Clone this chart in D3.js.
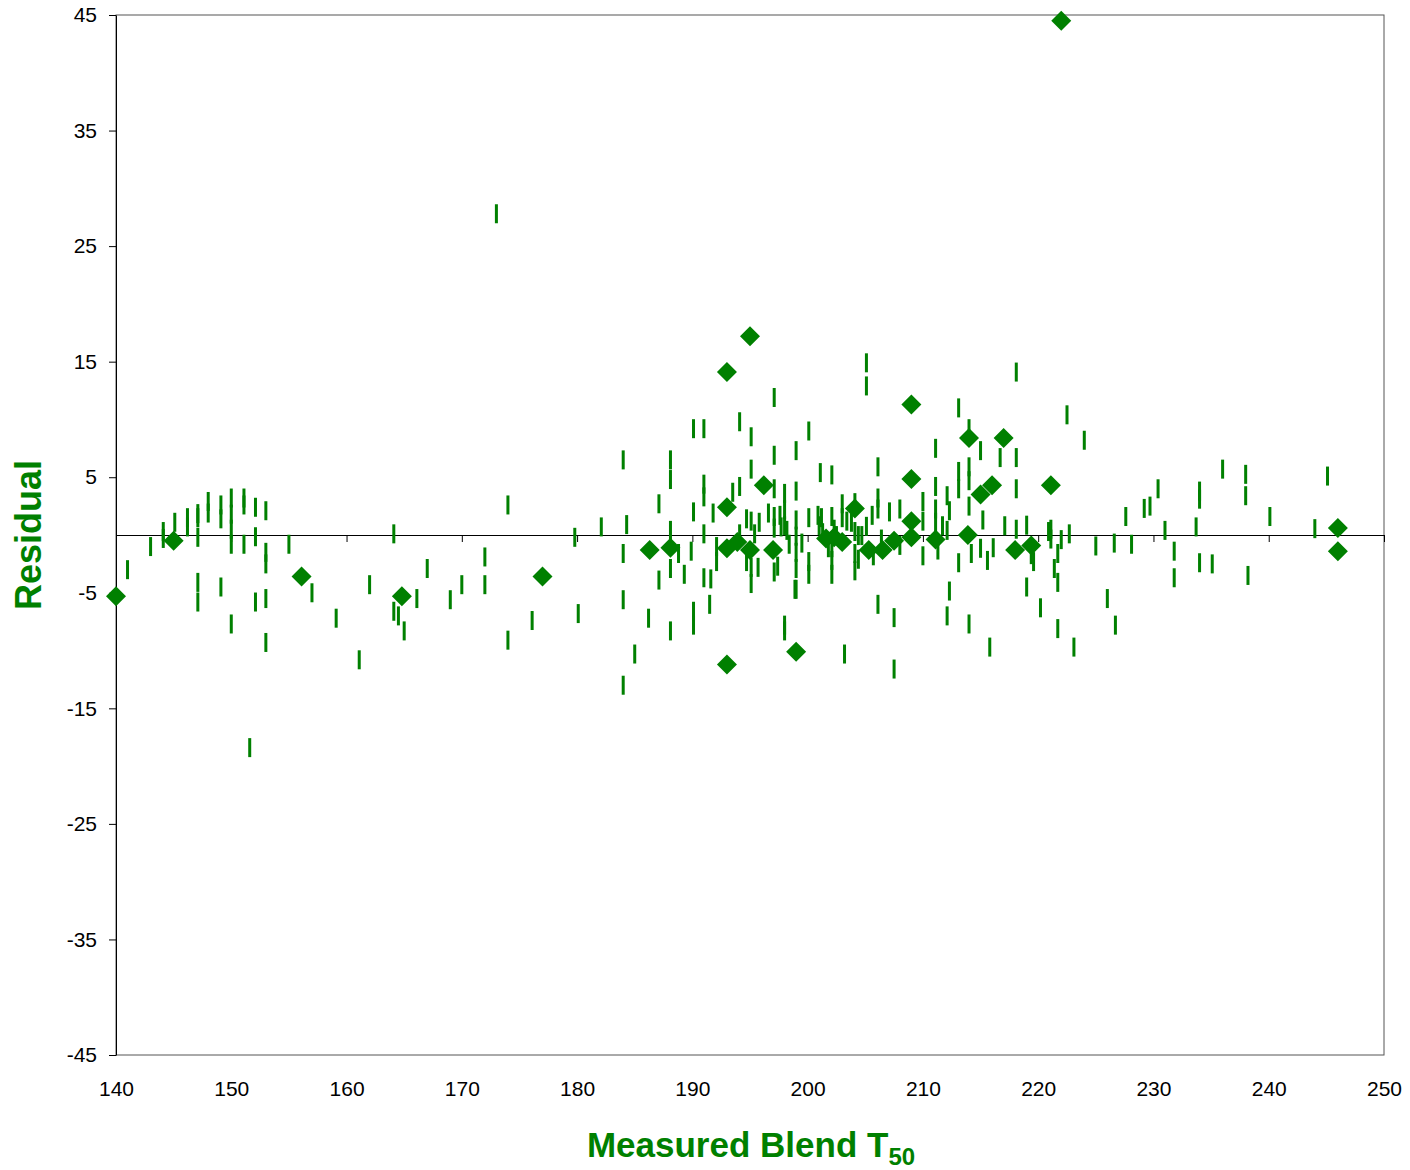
<!DOCTYPE html>
<html>
<head>
<meta charset="utf-8">
<script src="https://cdn.jsdelivr.net/npm/d3@7"></script>
<style>
  body { margin: 0; background: #fff; }
  svg { display: block; font-family: Arial, "Liberation Sans", sans-serif; }
</style>
</head>
<body>
<svg id="chart" width="1410" height="1170"></svg>
<script>
const width = 1410;
const height = 1170;
const margin = { top: 15, right: 26, bottom: 115, left: 116 };

const xTicks = [140, 150, 160, 170, 180, 190, 200, 210, 220, 230, 240, 250];
const yTicks = [-45, -35, -25, -15, -5, 5, 15, 25, 35, 45];

// diamonds (one series)
const diamondX = [140, 145, 156.1, 164.8, 177, 186.3, 188.1, 193, 193, 193, 193, 193.9, 195, 195, 196.2, 197, 199,
  201.6, 202.3, 203.0, 204.1, 205.3, 206.5, 207.5, 209, 209, 209, 209, 211.1, 214, 213.9, 215, 216, 217, 218, 219.4,
  221.1, 222, 246, 246];
const diamondY = [-5.3, -0.5, -3.6, -5.3, -3.6, -1.3, -1.1, 14.1, 2.4, -1.15, -11.2, -0.6, 17.2, -1.3, 4.3, -1.3, -10.1,
  -0.3, -0.2, -0.6, 2.3, -1.3, -1.3, -0.5, 11.3, 4.85, 1.2, -0.2, -0.4, 8.4, 0, 3.5, 4.3, 8.4, -1.3, -0.9,
  4.3, 44.5, 0.6, -1.4];

// dashes (other series)
const dashX = [141.0, 143.0, 144.1, 144.1, 145.1, 146.2, 146.2,
  147.1, 147.1, 147.1, 147.1, 147.1, 148.0, 148.0, 149.1, 149.1, 149.1,
  150.0, 150.0, 150.0, 150.0, 150.0, 151.1, 151.1, 151.1, 152.1, 152.1, 152.1,
  153.0, 153.0, 153.0, 153.0, 153.0, 151.6, 155.0, 157.0, 159.1, 161.1, 162.0,
  164.1, 164.1, 164.5, 165.0, 166.1, 167.0, 169.0, 170.0, 172.0, 172.0, 173.0, 174.0, 174.0,
  176.1, 179.8, 180.1, 182.1, 184.0, 184.0, 184.0, 184.0, 184.3, 185.0, 186.2, 187.1, 187.1,
  188.1, 188.1, 188.1, 188.1, 188.1, 188.8, 189.3, 189.9, 190.1, 190.1, 190.1, 190.1,
  191.0, 191.0, 191.0, 191.0, 191.0, 191.5, 191.6, 191.8, 192.1, 192.1, 193.5,
  194.1, 194.1, 194.1, 194.7, 194.7, 195.1, 195.1, 195.1, 195.1, 195.1, 195.4, 195.7, 195.8, 196.6,
  197.1, 197.1, 197.1, 197.1, 197.1, 197.1, 197.4, 197.6, 197.7,
  198.0, 198.0, 198.0, 198.0, 198.0, 198.2, 198.4, 198.9,
  199.0, 199.0, 199.0, 199.0, 199.0, 199.0, 199.0, 199.5,
  200.1, 200.1, 200.1, 200.1, 201.1, 200.9, 201.0, 201.2, 201.3,
  202.1, 202.1, 202.1, 202.1, 202.1, 201.8, 202.3, 202.5, 203.0, 203.0, 203.2, 203.4, 203.8,
  204.1, 204.1, 204.1, 204.1, 204.4, 204.4, 204.7, 205.1, 205.1, 205.1, 205.6, 205.7,
  206.1, 206.1, 206.1, 206.1, 206.4, 207.1, 207.5, 207.5, 208.0, 208.0,
  210.0, 210.0, 210.0, 211.1, 211.1, 211.1, 211.1, 211.3, 211.7,
  212.1, 212.1, 212.1, 212.3, 212.3, 213.1, 213.1, 213.1, 213.1,
  214.0, 214.0, 214.0, 214.0, 214.0, 214.2, 215.0, 215.0, 215.2, 215.6, 215.8, 216.1, 216.7, 217.1,
  218.1, 218.1, 218.1, 218.1, 219.0, 219.0, 219.4, 219.6, 220.2, 220.9, 221.1, 221.1,
  221.4, 221.7, 221.7, 221.7, 222.0, 222.5, 222.7, 223.1, 224.0, 225.0, 226.0, 226.6, 226.7,
  227.6, 228.1, 229.2, 229.7, 230.4, 231.0, 231.8, 231.8, 233.7, 234.0, 234.0, 234.0,
  235.1, 236.0, 238.0, 238.0, 238.2, 240.1, 244.0, 245.1];
const dashY = [-3.0, -1.0, 0.3, -0.3, 1.1, 1.5, 0.7,
  1.85, 1.5, -0.2, -4.1, -5.8, 2.9, 1.9, 2.6, 1.4, -4.5,
  3.2, 1.8, 0.5, -0.8, -7.7, 3.2, 2.6, -0.8, 2.4, -0.15, -5.8,
  2.1, -1.5, -2.5, -5.5, -9.3, -18.4, -0.8, -5.0, -7.2, -10.8, -4.3,
  0.1, -6.6, -7.0, -8.3, -5.5, -2.9, -5.6, -4.3, -1.9, -4.3, 27.8, 2.6, -9.1,
  -7.4, -0.2, -6.8, 0.7, 6.5, -1.6, -5.6, -13.0, 0.9, -10.3, -7.2, 2.7, -3.9,
  6.5, 4.8, 0.4, -2.9, -8.3, -1.6, -3.4, -1.4, 9.2, 2.0, -6.6, -7.8,
  9.2, 4.4, 3.3, 0.1, -3.7, -6.0, -3.8, 1.9, -1.0, -2.3, 3.7,
  9.8, 4.2, 0.1, 1.4, -2.3, 8.5, 5.7, 1.2, -2.8, -4.2, 0.1, -2.8, 1.1, 1.9,
  11.9, 6.9, 4.0, 1.6, 0.6, -3.2, -2.7, 1.7, 0.7,
  3.6, 2.2, 0.8, -7.8, -8.3, 0.4, -0.8, -4.7,
  7.3, 3.8, 1.3, -0.1, -1.5, -2.9, -4.7, -0.7,
  9.0, 1.5, -2.3, -3.4, 5.4, 1.7, 0.8, 1.5, 0.2,
  5.2, 1.6, -1.1, -2.2, -3.4, -1.1, 0.5, -0.05, 2.7, 1.5, -10.3, 1.2, 1.1,
  2.8, 0.3, -1.6, -3.1, -0.05, -2.1, -0.05, 14.9, 12.9, 0.75, 1.7, -1.8,
  5.9, 3.2, 2.25, -6.0, -0.35, 2.0, -7.15, -11.6, 2.25, -0.9,
  2.9, 1.2, -1.8, 7.5, 4.2, 2.25, 1.1, -1.3, 0.8,
  3.4, 0.4, -7.0, 2.1, -4.85, 11.0, 5.5, 4.0, -2.4,
  9.2, 5.9, 4.7, 2.5, -7.7, -1.6, 7.3, -1.15, 1.3, -2.2, -9.7, -1.1, 6.7, 0.8,
  14.1, 6.7, 4.0, 0.5, 0.85, -4.5, -1.7, -2.3, -6.3, 0.3, 0.5, -0.35,
  -2.9, -1.6, -4.1, -8.1, -0.4, 10.4, 0.1, -9.7, 8.2, -0.95, -5.5, -0.7, -7.8,
  1.6, -0.8, 2.3, 2.5, 4.0, 0.4, -1.4, -3.7, 0.7, 3.8, 3.1, -2.4,
  -2.5, 5.7, 5.25, 3.4, -3.5, 1.6, 0.55, 5.1];

const green = "#008000";

const svg = d3.select("#chart");

const x = d3.scaleLinear()
  .domain([140, 250])
  .range([margin.left, width - margin.right]);

const y = d3.scaleLinear()
  .domain([-45, 45])
  .range([height - margin.bottom, margin.top]);

// cadre de la zone de tracé
svg.append("rect")
  .attr("x", x(140))
  .attr("y", y(45))
  .attr("width", x(250) - x(140))
  .attr("height", y(-45) - y(45))
  .attr("fill", "none")
  .attr("stroke", "#555")
  .attr("stroke-width", 1);

// axe Y (tirets simples pour les négatifs)
const yAxis = svg.append("g")
  .attr("transform", `translate(${margin.left},0)`)
  .call(d3.axisLeft(y).tickValues(yTicks).tickSize(7).tickPadding(12).tickSizeOuter(0)
    .tickFormat(d => String(d)));
yAxis.select(".domain").attr("stroke", "#000");
yAxis.selectAll("text").attr("font-size", "21px").attr("fill", "#000");

// ligne zéro avec graduations
const zeroAxis = svg.append("g")
  .attr("transform", `translate(0,${y(0)})`)
  .call(d3.axisBottom(x).tickValues(xTicks).tickSize(7).tickSizeOuter(0).tickFormat(""));
zeroAxis.select(".domain").attr("stroke", "#000");

// étiquettes X en bas
const xLabels = svg.append("g")
  .attr("transform", `translate(0,${y(-45)})`)
  .call(d3.axisBottom(x).tickValues(xTicks).tickSize(0).tickPadding(26));
xLabels.select(".domain").remove();
xLabels.selectAll("text").attr("font-size", "21px").attr("fill", "#000");

// tirets
const dashes = dashX.map((d, i) => ({ x: d, y: dashY[i] }));
svg.append("g")
  .selectAll("rect")
  .data(dashes)
  .enter().append("rect")
  .attr("x", d => x(d.x) - 1.5)
  .attr("y", d => y(d.y) - 9.5)
  .attr("width", 3)
  .attr("height", 19)
  .attr("fill", green);

// losanges
const diamonds = diamondX.map((d, i) => ({ x: d, y: diamondY[i] }));
const diamondPath = "M0,-10L10,0L0,10L-10,0Z";
svg.append("g")
  .selectAll("path")
  .data(diamonds)
  .enter().append("path")
  .attr("d", diamondPath)
  .attr("transform", d => `translate(${x(d.x)},${y(d.y)})`)
  .attr("fill", green);

// titres des axes
svg.append("text")
  .attr("transform", `translate(41,${(y(45) + y(-45)) / 2}) rotate(-90)`)
  .attr("text-anchor", "middle")
  .attr("font-size", "36px")
  .attr("font-weight", "bold")
  .attr("fill", green)
  .text("Residual");

const xTitle = svg.append("text")
  .attr("x", 751)
  .attr("y", 1157)
  .attr("text-anchor", "middle")
  .attr("font-size", "35px")
  .attr("font-weight", "bold")
  .attr("fill", green);
xTitle.append("tspan").text("Measured Blend T");
xTitle.append("tspan").attr("font-size", "24px").attr("dy", 8).text("50");
</script>
</body>
</html>
